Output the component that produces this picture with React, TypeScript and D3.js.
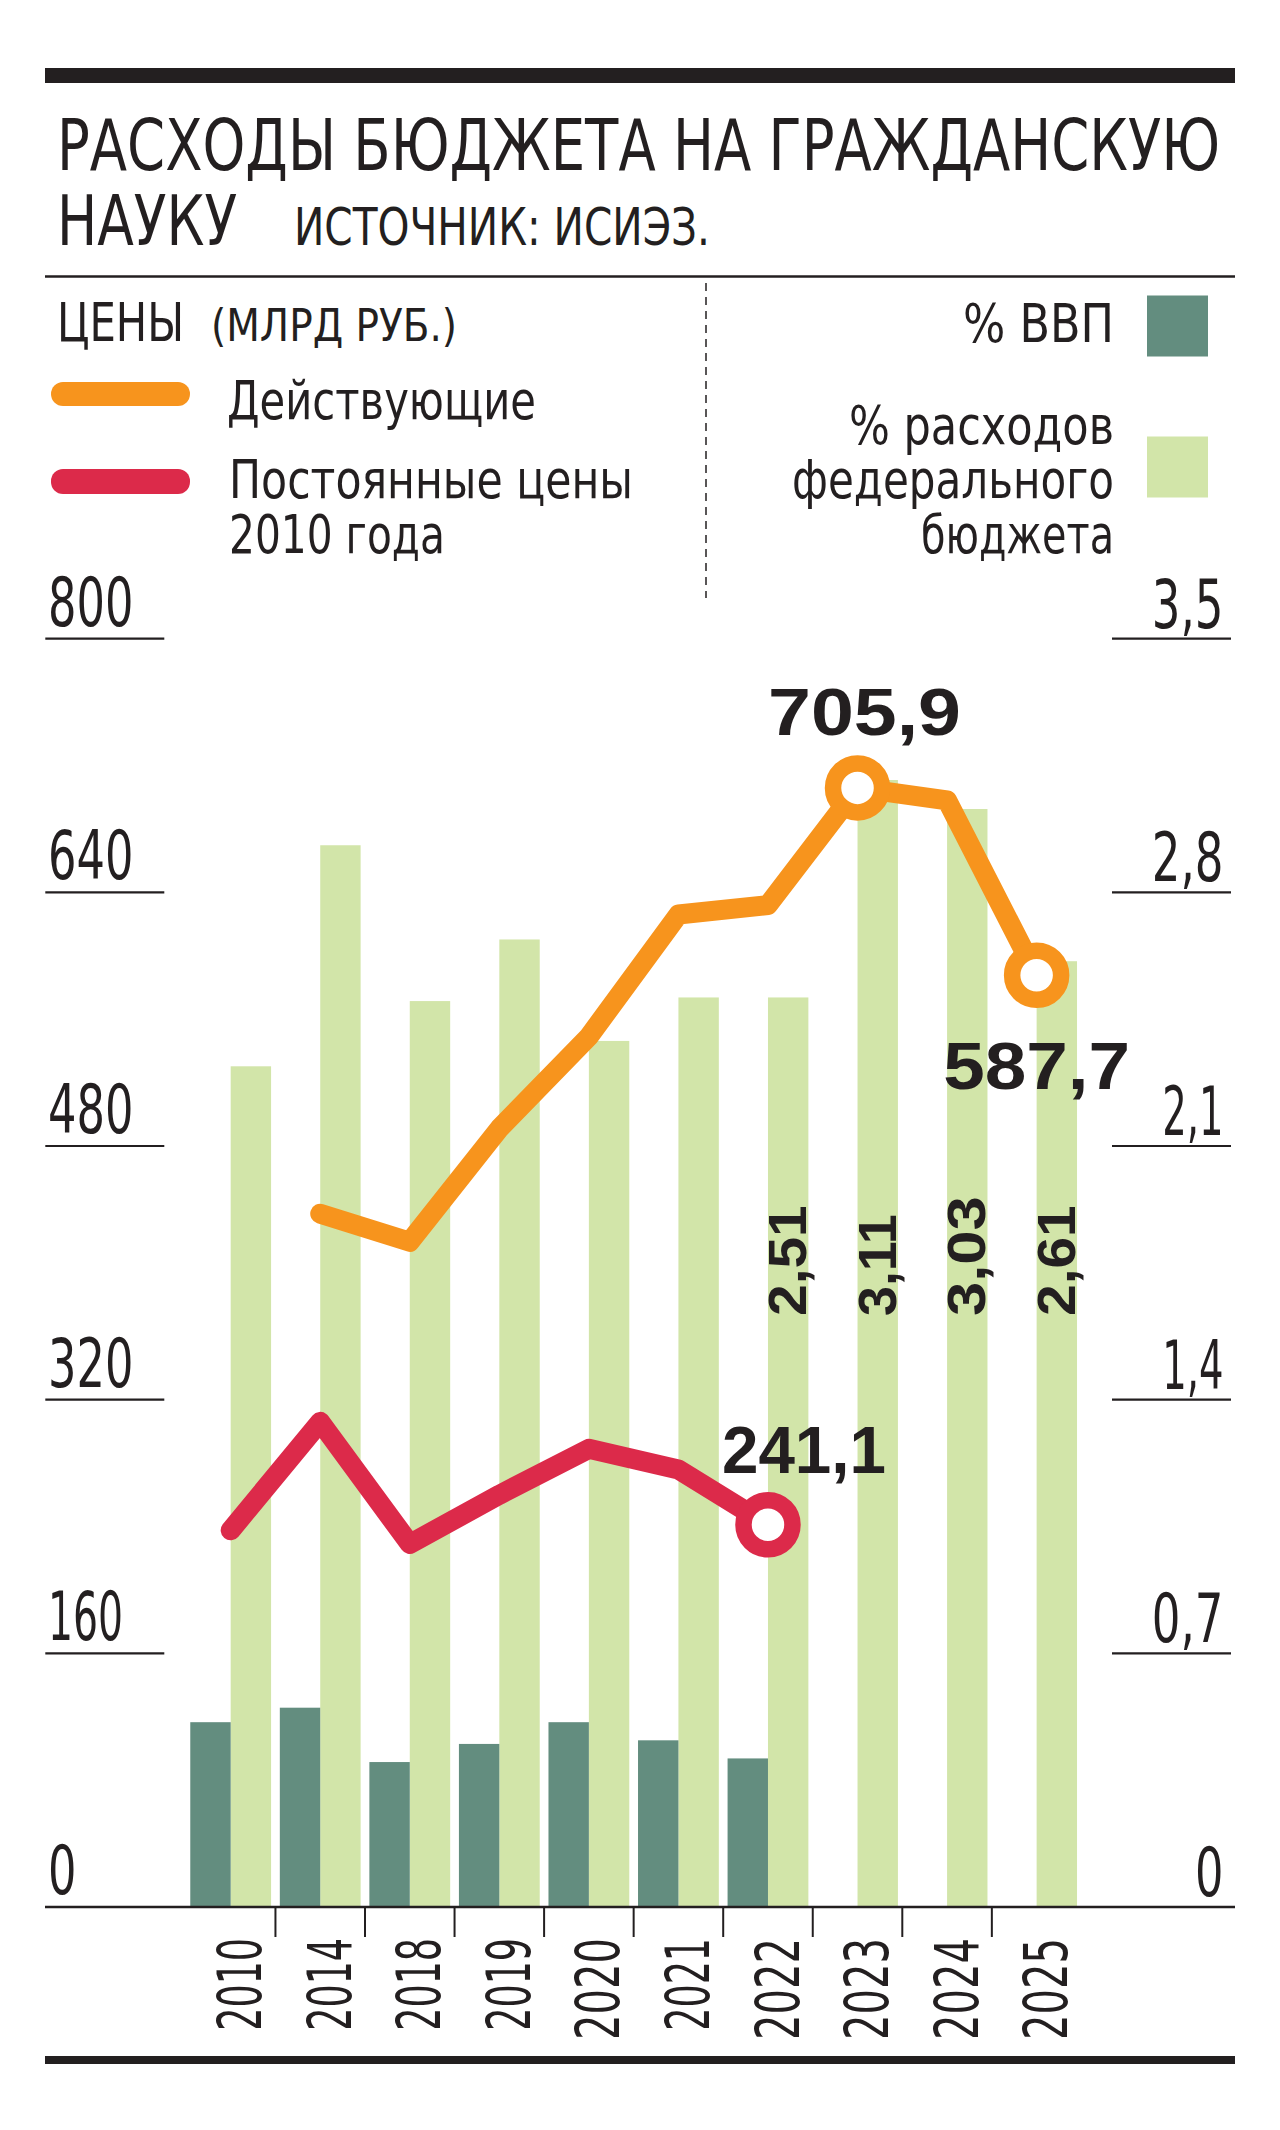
import * as d3 from 'd3';
import React from 'react';

// years on the x axis
const years = ['2010', '2014', '2018', '2019', '2020', '2021', '2022', '2023', '2024', '2025'];
// spending, bln rub, current prices (no 2010 point on the chart)
const currentPrices = [null, 437.3, 419.6, 491, 549, 626, 632, 705.9, 698, 587.7];
// spending, bln rub, constant 2010 prices
const constantPrices = [237.6, 306, 229, 260, 289, 276, 241.1, null, null, null];
// % of GDP
const gdpShare = [0.51, 0.55, 0.4, 0.45, 0.51, 0.46, 0.41, null, null, null];
// % of federal budget spending
const budgetShare = [2.32, 2.93, 2.5, 2.67, 2.39, 2.51, 2.51, 3.11, 3.03, 2.61];
// which budget bars get a printed value
const budgetLabelYears = ['2022', '2023', '2024', '2025'];

const leftTicks = [0, 160, 320, 480, 640, 800];
const rightTicks = [0, 0.7, 1.4, 2.1, 2.8, 3.5];

const INK = '#231f20';
const ORANGE = '#f7941d';
const RED = '#dc2a4a';
const DARK = '#638d7f';
const LIGHT = '#d2e5a9';
const COND = "'Liberation Sans Narrow', 'Arial Narrow', 'DejaVu Sans Condensed', 'Liberation Sans', sans-serif";
const BOLD = "'Liberation Sans', Arial, 'DejaVu Sans', sans-serif";

const fmt = (v: number) => String(v).replace('.', ',');
// rough widths of the condensed digits used in the original
const condW = (s: string, size: number) =>
  d3.sum(s.split(''), (c) => (c === '1' ? 0.27 : c === ',' ? 0.22 : 0.425)) * size;
const boldW = (s: string, size: number) =>
  d3.sum(s.split(''), (c) => (c === '1' ? 0.45 : c === ',' ? 0.4 : 0.62)) * size;

const T = ({ x, y, size, len, anchor = 'start', children, ...rest }: any) => (
  <text
    x={x}
    y={y}
    fontSize={size}
    fontFamily={COND}
    fill={INK}
    textAnchor={anchor}
    textLength={len}
    lengthAdjust="spacingAndGlyphs"
    {...rest}
  >
    {children}
  </text>
);

const App = () => {
  const width = 1280;
  const height = 2130;

  const x = d3.scaleBand(years, [185.9, 1081.4]);
  const bw = x.bandwidth();
  const cx = (y: string) => (x(y) as number) + bw / 2;
  const barW = 40.4;

  const yL = d3.scaleLinear([0, 800], [1907, 638.7]);
  const yR = d3.scaleLinear([0, 3.5], [1907, 638.7]);

  const line = d3
    .line<number | null>()
    .defined((d) => d != null)
    .x((d, i) => cx(years[i]))
    .y((d) => yL(d as number));

  const lastIdx = (arr: (number | null)[]) => arr.reduce((m: number, d, i) => (d != null ? i : m), -1);
  const iCur = lastIdx(currentPrices);
  const iCurMax = d3.maxIndex(currentPrices, (d) => (d == null ? -Infinity : d));
  const iConst = lastIdx(constantPrices);

  return (
    <svg
      width={width}
      height={height}
      style={{ position: 'absolute', left: 0, top: 0, background: '#fff' }}
    >
      <rect width={width} height={height} fill="#fff" />

      {/* header */}
      <rect x={45} y={68} width={1190} height={15} fill={INK} />
      <T x={57} y={170} size={71} len={1163}>РАСХОДЫ БЮДЖЕТА НА ГРАЖДАНСКУЮ</T>
      <T x={57} y={245} size={70} len={180}>НАУКУ</T>
      <T x={294} y={245} size={51} len={416}>ИСТОЧНИК: ИСИЭЗ.</T>
      <line x1={45} x2={1235} y1={276.5} y2={276.5} stroke={INK} strokeWidth={2.5} />
      <line x1={706} x2={706} y1={283} y2={598} stroke={INK} strokeWidth={1.5} strokeDasharray="8 6" />

      {/* legend left */}
      <T x={57} y={341} size={54} len={127}>ЦЕНЫ</T>
      <T x={211} y={341} size={44} len={246}>(МЛРД РУБ.)</T>
      <rect x={51} y={382} width={139} height={24} rx={12} fill={ORANGE} />
      <T x={227} y={419} size={54} len={309}>Действующие</T>
      <rect x={51} y={469} width={139} height={25} rx={12} fill={RED} />
      <T x={229} y={497.5} size={54} len={404}>Постоянные цены</T>
      <T x={229} y={553} size={54} len={216}>2010 года</T>

      {/* legend right */}
      <T x={1114} y={342} size={54} len={151} anchor="end">% ВВП</T>
      <rect x={1147} y={295.5} width={61} height={61} fill={DARK} />
      <T x={1114} y={444} size={54} len={265} anchor="end">% расходов</T>
      <T x={1114} y={497.5} size={54} len={322} anchor="end">федерального</T>
      <T x={1114} y={553} size={54} len={193} anchor="end">бюджета</T>
      <rect x={1147} y={436.5} width={61} height={61} fill={LIGHT} />

      {/* y grid marks and labels */}
      {leftTicks.filter((v) => v > 0).map((v) => (
        <line key={'l' + v} x1={45.3} x2={164.3} y1={yL(v)} y2={yL(v)} stroke={INK} strokeWidth={2.2} />
      ))}
      {rightTicks.filter((v) => v > 0).map((v) => (
        <line key={'r' + v} x1={1112} x2={1231} y1={yR(v)} y2={yR(v)} stroke={INK} strokeWidth={2.2} />
      ))}
      {leftTicks.map((v) => (
        <T key={'lt' + v} x={48} y={yL(v) - 13} size={67} len={condW(fmt(v), 67)}>
          {fmt(v)}
        </T>
      ))}
      {rightTicks.map((v) => (
        <T key={'rt' + v} x={1223.5} y={yR(v) - 11} size={67} len={condW(fmt(v), 67)} anchor="end">
          {fmt(v)}
        </T>
      ))}

      {/* bars */}
      {years.map((yr, i) => (
        <g key={'b' + yr}>
          {budgetShare[i] != null && (
            <rect x={cx(yr)} y={yR(budgetShare[i])} width={barW} height={yR(0) - yR(budgetShare[i])} fill={LIGHT} />
          )}
          {gdpShare[i] != null && (
            <rect
              x={cx(yr) - barW}
              y={yR(gdpShare[i] as number)}
              width={barW}
              height={yR(0) - yR(gdpShare[i] as number)}
              fill={DARK}
            />
          )}
        </g>
      ))}

      {/* values on the last budget bars */}
      {years.map((yr, i) =>
        budgetLabelYears.includes(yr) ? (
          <text
            key={'bl' + yr}
            transform={`translate(${cx(yr) + 38},1316) rotate(-90)`}
            fontFamily={BOLD}
            fontWeight={700}
            fontSize={53}
            fill={INK}
            textLength={boldW(fmt(budgetShare[i]), 53)}
            lengthAdjust="spacingAndGlyphs"
          >
            {fmt(budgetShare[i])}
          </text>
        ) : null
      )}

      {/* x axis */}
      <line x1={45} x2={1235} y1={1907} y2={1907} stroke={INK} strokeWidth={2.5} />
      {years.slice(1).map((yr) => (
        <line key={'t' + yr} x1={x(yr)} x2={x(yr)} y1={1907} y2={1937} stroke={INK} strokeWidth={2} />
      ))}
      {years.map((yr) => (
        <T
          key={'y' + yr}
          transform={`translate(${cx(yr) + 30.6},1938) rotate(-90)`}
          x={0}
          y={0}
          size={61}
          len={condW(yr, 60)}
          anchor="end"
        >
          {yr}
        </T>
      ))}

      {/* lines */}
      <path d={line(currentPrices) || ''} fill="none" stroke={ORANGE} strokeWidth={20} strokeLinejoin="round" strokeLinecap="round" />
      <path d={line(constantPrices) || ''} fill="none" stroke={RED} strokeWidth={20} strokeLinejoin="round" strokeLinecap="round" />

      {[iCurMax, iCur].map((i) => (
        <circle key={'oc' + i} cx={cx(years[i])} cy={yL(currentPrices[i] as number)} r={24.5} fill="#fff" stroke={ORANGE} strokeWidth={16.5} />
      ))}
      <circle cx={cx(years[iConst])} cy={yL(constantPrices[iConst] as number)} r={24.5} fill="#fff" stroke={RED} strokeWidth={16.5} />

      {/* annotations */}
      <text
        x={cx(years[iCurMax]) + 7}
        y={yL(currentPrices[iCurMax] as number) - 53}
        textAnchor="middle"
        fontFamily={BOLD}
        fontWeight={700}
        fontSize={66}
        fill={INK}
        textLength={193}
        lengthAdjust="spacingAndGlyphs"
      >
        {fmt(currentPrices[iCurMax] as number)}
      </text>
      <text
        x={cx(years[iCur])}
        y={yL(currentPrices[iCur] as number) + 114}
        textAnchor="middle"
        fontFamily={BOLD}
        fontWeight={700}
        fontSize={66}
        fill={INK}
        textLength={187}
        lengthAdjust="spacingAndGlyphs"
      >
        {fmt(currentPrices[iCur] as number)}
      </text>
      <text
        x={cx(years[iConst]) + 36}
        y={yL(constantPrices[iConst] as number) - 52}
        textAnchor="middle"
        fontFamily={BOLD}
        fontWeight={700}
        fontSize={66}
        fill={INK}
        textLength={164}
        lengthAdjust="spacingAndGlyphs"
      >
        {fmt(constantPrices[iConst] as number)}
      </text>

      {/* bottom rule */}
      <rect x={45} y={2056} width={1190} height={8} fill={INK} />
    </svg>
  );
};

export default App;
